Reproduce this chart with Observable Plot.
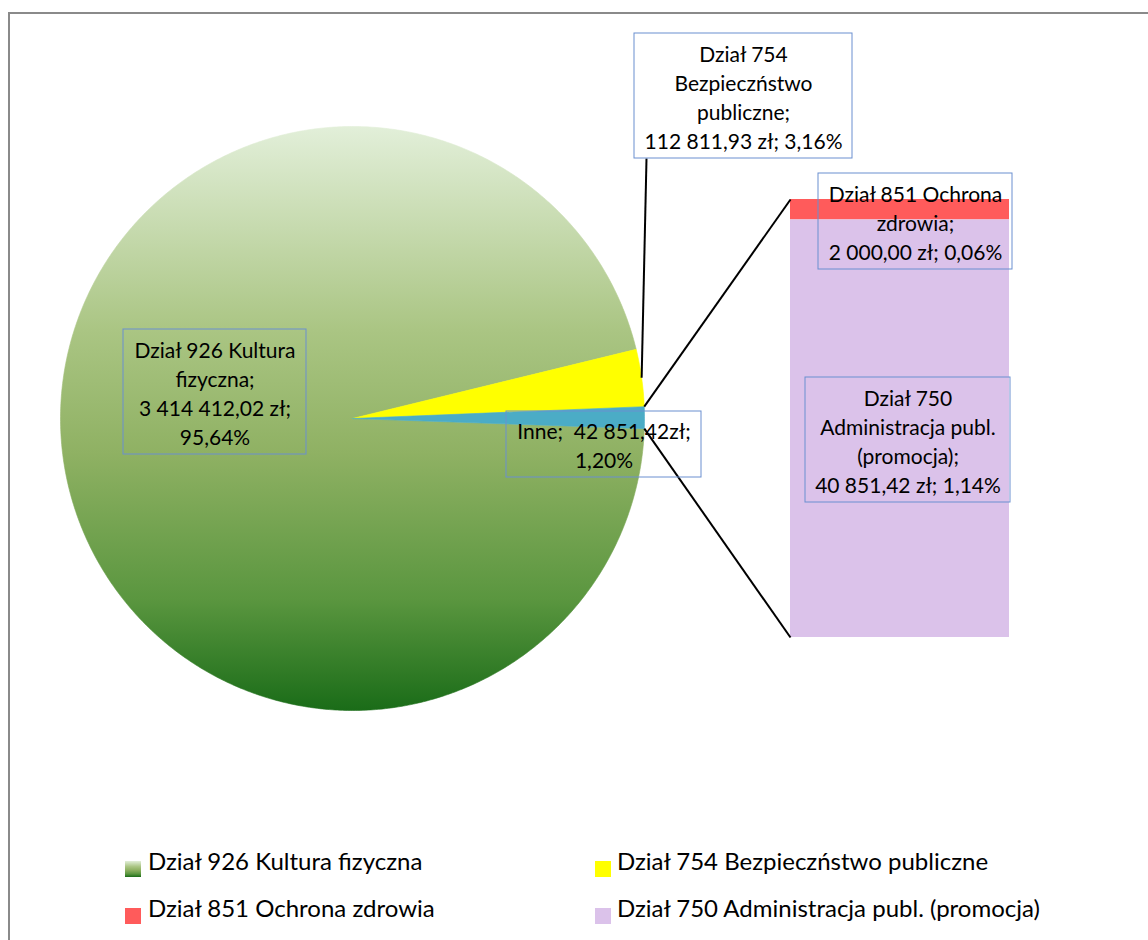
<!DOCTYPE html>
<html><head><meta charset="utf-8">
<script src="https://cdn.jsdelivr.net/npm/d3@7"></script>
<script src="https://cdn.jsdelivr.net/npm/@observablehq/plot@0.6"></script>
<style>
html,body{margin:0;padding:0;overflow:hidden;background:#fff;}
#wrap{position:relative;width:1148px;height:940px;font-family:Lato,sans-serif;overflow:hidden;}
#frame{position:absolute;left:8px;top:12px;width:1400px;height:1200px;border:2px solid #8a8a8a;box-sizing:border-box;}
#chart{position:absolute;left:0;top:0;}
.lg{position:absolute;font-size:24px;line-height:28px;color:#000;white-space:nowrap;}
.sw{position:absolute;width:16px;height:16px;}
svg text{white-space:pre;}
</style></head><body>
<div id="wrap"><div id="frame"></div><div id="chart"></div><div id="legend"></div></div>
<script>
// ---- data ----
const pieCategories = ["Dział 926 Kultura fizyczna", "Dział 754 Bezpieczństwo publiczne", "Inne"];
const pieValues = [3414412.02, 112811.93, 42851.42];
const pieColors = ["url(#g926)", "#FFFF00", "#4BACC6"];
const barCategories = ["Dział 851 Ochrona zdrowia", "Dział 750 Administracja publ. (promocja)"];
const barValues = [2000.00, 40851.42];
const barColors = ["#FF5B5B", "#DBC2EA"];
const legendCategories = ["Dział 926 Kultura fizyczna", "Dział 754 Bezpieczństwo publiczne", "Dział 851 Ochrona zdrowia", "Dział 750 Administracja publ. (promocja)"];
const legendColors = ["linear-gradient(to bottom,#e2efd9,#aac583 35%,#8fb163 56%,#5a963f 81%,#1a6c18)", "#FFFF00", "#FF5B5B", "#DBC2EA"];

// ---- geometry / layout ----
const W = 1148, H = 830, CX = 352, CY = 418, R = 292;
const firstSliceAngle = 92;
const total = d3.sum(pieValues);
const pl = d3.formatLocale({decimal: ",", thousands: " ", grouping: [3], currency: ["", " zł"]});
const money = pl.format(",.2f");
const pct = pl.format(".2%");

let acc = 0;
const slices = pieValues.map((v, i) => {
  const a0 = firstSliceAngle + acc / total * 360; acc += v;
  const a1 = firstSliceAngle + acc / total * 360;
  return {i, a0, a1, mid: (a0 + a1) / 2};
});
const pt = (deg, r = 1) => ({x: r * Math.sin(deg * Math.PI / 180), y: r * Math.cos(deg * Math.PI / 180)});
function slicePoly(s) {
  const pts = [{x: 0, y: 0}];
  const n = Math.max(2, Math.ceil((s.a1 - s.a0) / 0.5));
  for (let k = 0; k <= n; k++) pts.push(pt(s.a0 + (s.a1 - s.a0) * k / n));
  pts.push({x: 0, y: 0});
  return pts;
}

const barX1 = 1 + 0.5, barX2 = barX1 + 0.75, barTop = 0.75, barBottom = -0.75;
const barTotal = d3.sum(barValues);
let yCursor = barTop;
const barRects = barValues.map((v, i) => {
  const h = (barTop - barBottom) * v / barTotal;
  const r = {i, x1: barX1, x2: barX2, y2: yCursor, y1: yCursor - h, fill: barColors[i]};
  yCursor -= h; return r;
});
const other = slices[2];
const connectors = [
  {a: pt(other.a0), b: {x: barX1, y: barTop}},
  {a: pt(other.a1), b: {x: barX1, y: barBottom}}
];

const ux = px => (px - CX) / R, uy = py => (CY - py) / R;
const labels = [
  {cx: 214.5, cy: 391.5, w: 183, h: 125, text: `Dział 926 Kultura\nfizyczna;\n${money(pieValues[0])} zł;\n${pct(pieValues[0] / total)}`},
  {cx: 743, cy: 95.5, w: 218, h: 125, text: `Dział 754\nBezpieczństwo\npubliczne;\n${money(pieValues[1])} zł; ${pct(pieValues[1] / total)}`},
  {cx: 603.5, cy: 444, w: 195, h: 66, text: `Inne;  ${money(pieValues[2])}zł;\n${pct(pieValues[2] / total)}`},
  {cx: 915, cy: 221, w: 194, h: 96, text: `Dział 851 Ochrona\nzdrowia;\n${money(barValues[0])} zł; ${pct(barValues[0] / total)}`},
  {cx: 907.5, cy: 439.5, w: 205, h: 125, text: `Dział 750\nAdministracja publ.\n(promocja);\n${money(barValues[1])} zł; ${pct(barValues[1] / total)}`}
];
const leader = {x1: ux(646), y1: uy(158), end: pt(slices[1].mid)};

const marks = [];
slices.forEach((s, i) => marks.push(Plot.line(slicePoly(s), {x: "x", y: "y", fill: pieColors[i], stroke: pieColors[i], strokeWidth: 0.6, curve: "linear"})));
marks.push(Plot.rect(barRects, {x1: "x1", x2: "x2", y1: "y1", y2: "y2", fill: "fill"}));
marks.push(Plot.link(connectors, {x1: d => d.a.x, y1: d => d.a.y, x2: d => d.b.x, y2: d => d.b.y, stroke: "#000", strokeWidth: 2}));
marks.push(Plot.link([leader], {x1: "x1", y1: "y1", x2: d => d.end.x, y2: d => d.end.y, stroke: "#000", strokeWidth: 2}));
labels.forEach(l => {
  marks.push(Plot.rect([l], {x1: d => ux(d.cx), x2: d => ux(d.cx), y1: d => uy(d.cy), y2: d => uy(d.cy),
    insetLeft: -l.w / 2, insetRight: -l.w / 2, insetTop: -l.h / 2, insetBottom: -l.h / 2,
    fill: "none", stroke: "#6a8fd0", strokeWidth: 1}));
  marks.push(Plot.text([l], {x: d => ux(d.cx), y: d => uy(d.cy), text: "text", fontSize: 21, lineHeight: 1.38, fill: "#000", textAnchor: "middle"}));
});

const svg = Plot.plot({
  width: W, height: H, margin: 0,
  x: {domain: [ux(0), ux(W)], axis: null},
  y: {domain: [uy(H), uy(0)], axis: null},
  color: {type: "identity"},
  style: {fontFamily: "Lato, sans-serif", fontSize: "21px", background: "transparent", overflow: "visible"},
  marks
});
const defs = d3.select(svg).insert("defs", ":first-child");
const grad = defs.append("linearGradient").attr("id", "g926").attr("x1", 0).attr("y1", 0).attr("x2", 0).attr("y2", 1);
[[0, "#e2efd9"], [0.35, "#aac583"], [0.56, "#8fb163"], [0.81, "#5a963f"], [1, "#1a6c18"]]
  .forEach(([o, c]) => grad.append("stop").attr("offset", o).attr("stop-color", c));
document.getElementById("chart").appendChild(svg);

// ---- legend ----
const legendPos = [{sx: 125, tx: 148, sy: 861, ty: 847}, {sx: 595, tx: 617, sy: 861, ty: 847},
                   {sx: 125, tx: 148, sy: 908, ty: 894}, {sx: 595, tx: 617, sy: 908, ty: 894}];
const lg = document.getElementById("legend");
legendCategories.forEach((c, i) => {
  const p = legendPos[i];
  const sw = document.createElement("div"); sw.className = "sw";
  sw.style.left = p.sx + "px"; sw.style.top = p.sy + "px"; sw.style.background = legendColors[i];
  const t = document.createElement("div"); t.className = "lg";
  t.style.left = p.tx + "px"; t.style.top = p.ty + "px"; t.textContent = c;
  lg.appendChild(sw); lg.appendChild(t);
});
</script>
</body></html>
